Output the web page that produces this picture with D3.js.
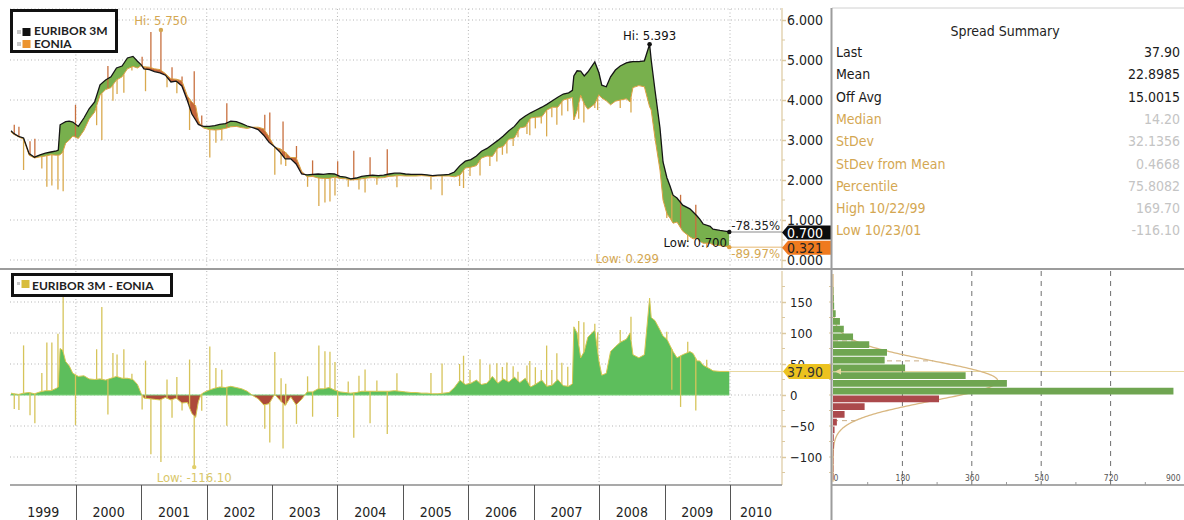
<!DOCTYPE html>
<html><head><meta charset="utf-8">
<script src="https://cdn.jsdelivr.net/npm/d3@7"></script>
<style>
body{margin:0;background:#fff;}
svg{display:block;}
text{font-family:"DejaVu Sans Condensed","DejaVu Sans",sans-serif;font-stretch:condensed;}
.lg{font-family:Lato,"Liberation Sans",sans-serif;font-weight:bold;font-stretch:normal;}
</style></head><body>
<svg id="c" width="1184" height="520"></svg>
<script>
// ---------------- DATA ----------------
const dates = [
"1999-01-04","1999-01-20","1999-02-15","1999-03-15","1999-04-15","1999-05-15","1999-06-15","1999-07-15","1999-08-15","1999-09-15","1999-09-25","1999-10-05","1999-10-20","1999-11-05","1999-11-25","1999-12-15",
"2000-01-15","2000-02-15","2000-03-15","2000-04-15","2000-05-15","2000-06-15","2000-07-15","2000-08-15","2000-09-15","2000-10-15","2000-11-15","2000-12-10","2000-12-31",
"2001-01-15","2001-02-15","2001-03-15","2001-04-15","2001-05-15","2001-06-15","2001-07-15","2001-08-15","2001-09-15","2001-10-10","2001-10-31","2001-11-15","2001-11-30","2001-12-15",
"2002-01-15","2002-02-15","2002-03-15","2002-04-15","2002-05-15","2002-06-15","2002-07-15","2002-08-15","2002-09-15","2002-10-15","2002-11-15","2002-12-15",
"2003-01-15","2003-02-15","2003-03-15","2003-04-15","2003-05-15","2003-06-15","2003-07-15","2003-08-15","2003-09-15","2003-10-15","2003-11-15","2003-12-15",
"2004-01-15","2004-02-15","2004-03-15","2004-04-15","2004-05-15","2004-06-15","2004-07-15","2004-08-15","2004-09-15","2004-10-15","2004-11-15","2004-12-15",
"2005-01-15","2005-02-15","2005-03-15","2005-04-15","2005-05-15","2005-06-15","2005-07-15","2005-08-15","2005-09-15","2005-10-15","2005-11-15","2005-12-15",
"2006-01-15","2006-02-15","2006-03-15","2006-04-15","2006-05-15","2006-06-15","2006-07-15","2006-08-15","2006-09-15","2006-10-15","2006-11-15","2006-12-15",
"2007-01-15","2007-02-15","2007-03-15","2007-04-15","2007-05-15","2007-06-15","2007-07-15","2007-08-05","2007-08-13","2007-08-31","2007-09-20","2007-10-10","2007-10-30","2007-12-08","2007-12-31",
"2008-01-16","2008-02-10","2008-03-05","2008-04-01","2008-04-28","2008-06-01","2008-06-22","2008-07-08","2008-08-10","2008-09-10","2008-10-09","2008-10-18","2008-11-08","2008-12-06","2008-12-23",
"2009-01-14","2009-01-31","2009-02-17","2009-03-11","2009-04-12","2009-05-22","2009-06-09","2009-07-01","2009-07-16","2009-08-04","2009-09-12","2009-09-28","2009-11-06","2009-12-21","2009-12-28"
];
const euribor = [
3.23,3.16,3.09,3.05,2.66,2.57,2.63,2.67,2.70,2.73,2.75,3.38,3.42,3.46,3.47,3.45,
3.34,3.55,3.78,3.95,4.38,4.50,4.58,4.80,4.85,5.05,5.09,4.97,4.88,
4.78,4.76,4.71,4.68,4.62,4.45,4.47,4.35,3.98,3.65,3.50,3.39,3.36,3.34,
3.34,3.36,3.39,3.41,3.47,3.46,3.41,3.35,3.31,3.26,3.12,2.94,
2.83,2.69,2.53,2.53,2.40,2.15,2.13,2.14,2.15,2.14,2.16,2.15,
2.09,2.07,2.03,2.05,2.09,2.11,2.12,2.11,2.12,2.15,2.17,2.17,
2.15,2.14,2.14,2.14,2.13,2.11,2.12,2.13,2.14,2.20,2.36,2.47,
2.51,2.60,2.72,2.79,2.89,2.99,3.10,3.23,3.34,3.50,3.60,3.68,
3.75,3.82,3.89,3.98,4.07,4.15,4.18,4.24,4.60,4.73,4.72,4.60,4.70,4.95,4.68,
4.37,4.33,4.58,4.75,4.85,4.93,4.95,4.96,4.96,4.98,5.393,5.00,4.25,3.30,2.45,
2.05,1.85,1.62,1.55,1.37,1.28,1.20,1.10,1.02,0.90,0.84,0.77,0.74,0.71,0.700
];
const eonia = [
3.20,3.14,3.08,3.02,2.62,2.55,2.58,2.60,2.63,2.62,2.62,2.63,2.70,2.92,3.00,3.10,
3.04,3.24,3.52,3.70,4.12,4.26,4.31,4.50,4.58,4.78,4.84,4.80,4.86,
4.83,4.82,4.78,4.76,4.66,4.53,4.52,4.48,4.10,3.95,3.86,3.50,3.35,3.30,
3.26,3.25,3.26,3.29,3.33,3.34,3.31,3.29,3.32,3.32,3.28,3.08,
2.82,2.78,2.70,2.56,2.56,2.22,2.08,2.09,2.05,2.04,2.04,2.07,
2.04,2.03,2.00,2.01,2.03,2.05,2.06,2.05,2.06,2.09,2.10,2.11,
2.10,2.10,2.10,2.11,2.10,2.09,2.10,2.10,2.10,2.08,2.12,2.30,
2.32,2.36,2.55,2.60,2.59,2.80,2.84,3.02,3.05,3.30,3.33,3.55,
3.57,3.58,3.75,3.82,3.82,4.00,4.04,4.06,3.50,3.73,4.12,3.90,3.77,3.90,4.13,
4.05,3.98,3.88,3.97,4.00,4.03,3.95,4.31,4.36,4.33,3.83,3.75,3.05,2.25,1.50,
1.15,1.05,0.92,0.95,0.72,0.58,0.53,0.55,0.47,0.42,0.42,0.38,0.36,0.33,0.321
];
// single-day EONIA prints (spikes)
const spikeDates = [
"1999-01-22","1999-02-17","1999-03-15","1999-04-20","1999-05-17","1999-06-25","1999-07-23","1999-08-20","1999-09-23","1999-10-22","1999-12-30",
"2000-04-26","2000-05-25","2000-06-28","2000-07-26","2000-08-18","2000-09-25","2000-11-09",
"2001-01-05","2001-01-24","2001-02-23","2001-04-20","2001-05-24","2001-06-21","2001-07-18","2001-08-16","2001-09-27","2001-10-23","2001-12-04",
"2002-01-18","2002-02-21","2002-03-26","2002-04-23","2002-11-21","2002-12-19",
"2003-01-16","2003-02-20","2003-03-03","2003-03-18","2003-05-17","2003-07-18","2003-08-15","2003-09-19","2003-10-23","2003-11-20","2003-12-18",
"2004-01-02","2004-03-01","2004-04-01","2004-04-30","2004-06-03","2004-07-01","2004-08-08","2004-10-05","2004-11-28",
"2005-06-06","2005-08-07","2005-11-13","2005-12-05",
"2006-01-10","2006-03-07","2006-05-01","2006-06-09","2006-07-10","2006-08-04","2006-09-08","2006-10-05","2006-11-24","2006-12-10",
"2007-01-10","2007-02-12","2007-03-14","2007-04-12","2007-05-10","2007-06-07","2007-07-10","2007-09-09","2007-10-08","2007-12-08","2007-12-24",
"2008-04-28","2008-06-27",
"2009-01-13","2009-02-10","2009-03-31","2009-05-10","2009-06-24","2009-08-24"
];
const spikeEonia = [
3.38,3.33,2.25,2.97,3.03,2.29,1.83,1.86,1.76,1.72,3.88,
3.37,3.00,4.85,3.98,4.15,4.18,4.74,
5.08,4.22,5.70,5.75,4.32,4.82,4.17,4.59,3.25,4.72,3.61,
2.56,2.93,2.99,3.92,3.63,3.69,
2.13,2.39,3.46,2.35,2.85,1.83,2.49,1.35,1.44,1.46,1.61,
2.47,1.83,2.73,1.76,1.69,2.57,1.88,2.77,1.82,
1.76,1.62,1.85,1.80,
2.10,2.11,2.35,2.46,2.63,2.66,2.85,3.07,3.15,3.12,
3.29,3.41,3.09,3.57,3.38,3.61,3.72,3.53,3.44,3.80,3.75,
3.80,3.69,
1.05,1.63,1.63,0.45,1.38,0.299
];
const yearLabels = ["1999","2000","2001","2002","2003","2004","2005","2006","2007","2008","2009","2010"];
const yearDividers = ["2000","2001","2002","2003","2004","2005","2006","2007","2008","2009","2010"];
const topTicks = [0,1,2,3,4,5,6];
const spreadTicks = [-100,-50,0,50,100,150];
const histBinLower = [-137.5,-125,-112.5,-100,-87.5,-75,-62.5,-50,-37.5,-25,-12.5,0,12.5,25,37.5,50,62.5,75,87.5,100,112.5,125,137.5,150,162.5];
const histCounts   = [1,1,1,1,2,2,4,10,30,82,275,883,451,344,187,134,140,94,52,28,18,7,3,2,1];
const histTicks = [0,180,360,540,720,900];
const summaryLabels = ["Last","Mean","Off Avg","Median","StDev","StDev from Mean","Percentile","High 10/22/99","Low 10/23/01"];
const summaryValues = ["37.90","22.8985","15.0015","14.20","32.1356","0.4668","75.8082","169.70","-116.10"];
const spreadMean = 22.8985, spreadSd = 32.1356, spreadLast = 37.90;

// ---------------- SETUP ----------------
const svg = d3.select("#c");
const parse = d3.timeParse("%Y-%m-%d");
const rows = dates.map((d,i)=>({date:parse(d), eur:euribor[i], eon:eonia[i], spr:(euribor[i]-eonia[i])*100}));
const spikes = spikeDates.map((d,i)=>({date:parse(d), eon:spikeEonia[i]}));
const bis = d3.bisector(d=>d.date).left;
function at(key, t){
  const i = bis(rows, t);
  if(i<=0) return rows[0][key];
  if(i>=rows.length) return rows[rows.length-1][key];
  const a=rows[i-1], b=rows[i];
  if(+b.date===+t) return b[key];
  const f=(t-a.date)/(b.date-a.date);
  return a[key]+(b[key]-a[key])*f;
}

const PL=10, PR=782, TT=9, TB=268, BT=271, BB=485;
const x = d3.scaleTime().domain([new Date(1999,0,1), new Date(2010,0,1)]).range([10.5,730]);
const yT = d3.scaleLinear().domain([0,6]).range([260,20]);
const yB = d3.scaleLinear().domain([-100,150]).range([457,302]);
const xH = d3.scaleLinear().domain([0,900]).range([833,1180]);

const C = {green:"#78b04d", red:"#c4653b", eon:"#dba040", eur:"#151515",
  sG:"#5dbe5c", sR:"#ad4a3a", sLine:"#d7c752", tan:"#d4a752", axis:"#dcc9a0",
  hG:"#6fa551", hR:"#ab494c", grid:"#b5b5b5"};

const defs = svg.append("defs");
defs.append("clipPath").attr("id","clipTop").append("rect").attr("x",PL).attr("y",TT).attr("width",PR-PL).attr("height",TB-TT);
defs.append("clipPath").attr("id","clipBot").append("rect").attr("x",PL).attr("y",BT).attr("width",PR-PL).attr("height",BB-BT);
defs.append("clipPath").attr("id","abvEon").append("path")
  .attr("d", d3.area().x(d=>x(d.date)).y0(0).y1(d=>yT(d.eon))(rows));
defs.append("clipPath").attr("id","blwEon").append("path")
  .attr("d", d3.area().x(d=>x(d.date)).y0(d=>yT(d.eon)).y1(TB)(rows));
defs.append("clipPath").attr("id","posS").append("rect").attr("x",0).attr("y",BT).attr("width",PR).attr("height",yB(0)-BT);
defs.append("clipPath").attr("id","negS").append("rect").attr("x",0).attr("y",yB(0)).attr("width",PR).attr("height",BB-yB(0));

// ---------------- FRAME / GRID ----------------
const gg = svg.append("g");
gg.selectAll(".hgT").data(topTicks).join("line")
  .attr("x1",PL).attr("x2",PR).attr("y1",d=>yT(d)).attr("y2",d=>yT(d))
  .attr("stroke",C.grid).attr("stroke-dasharray","1,2.5");
gg.append("line").attr("x1",PL).attr("x2",PR).attr("y1",TT).attr("y2",TT).attr("stroke",C.grid).attr("stroke-dasharray","1,2.5");
gg.append("g").selectAll("line").data(spreadTicks).join("line")
  .attr("x1",PL).attr("x2",PR).attr("y1",d=>yB(d)).attr("y2",d=>yB(d))
  .attr("stroke",C.grid).attr("stroke-dasharray","1,2.5");
const vYears = [2000,2002,2004,2006,2008,2010].map(y=>new Date(y,0,1));
gg.append("g").selectAll("line").data(vYears).join("line")
  .attr("x1",d=>x(d)).attr("x2",d=>x(d)).attr("y1",TT).attr("y2",TB)
  .attr("stroke",C.grid).attr("stroke-dasharray","1,2.5");
gg.append("g").selectAll("line").data(vYears).join("line")
  .attr("x1",d=>x(d)).attr("x2",d=>x(d)).attr("y1",BT).attr("y2",BB)
  .attr("stroke",C.grid).attr("stroke-dasharray","1,2.5");

// ---------------- TOP PANEL ----------------
const tg = svg.append("g").attr("clip-path","url(#clipTop)");
const between = d3.area().x(d=>x(d.date)).y0(d=>yT(d.eon)).y1(d=>yT(d.eur));
tg.append("g").attr("clip-path","url(#blwEon)").append("path").attr("d",between(rows)).attr("fill",C.red);
tg.append("g").attr("clip-path","url(#abvEon)").append("path").attr("d",between(rows)).attr("fill",C.green);
tg.append("g").selectAll("line").data(spikes).join("line")
  .attr("x1",d=>x(d.date)).attr("x2",d=>x(d.date))
  .attr("y1",d=>yT(at("eon",d.date))).attr("y2",d=>yT(d.eon))
  .attr("stroke",d=>d.eon>at("eur",d.date)?"#c8703f":"#d9a94e").attr("stroke-width",1.3);
tg.append("path").datum(rows).attr("d",d3.line().x(d=>x(d.date)).y(d=>yT(d.eon)))
  .attr("fill","none").attr("stroke",C.eon).attr("stroke-width",1);
tg.append("path").datum(rows).attr("d",d3.line().x(d=>x(d.date)).y(d=>yT(d.eur)))
  .attr("fill","none").attr("stroke",C.eur).attr("stroke-width",1.3);

// ---------------- BOTTOM PANEL ----------------
const bg = svg.append("g").attr("clip-path","url(#clipBot)");
const sArea = d3.area().x(d=>x(d.date)).y0(yB(0)).y1(d=>yB(d.spr));
bg.append("g").attr("clip-path","url(#posS)").append("path").attr("d",sArea(rows)).attr("fill",C.sG);
bg.append("g").attr("clip-path","url(#negS)").append("path").attr("d",sArea(rows)).attr("fill",C.sR);
bg.append("line").attr("x1",x(rows[0].date)).attr("x2",x(rows[rows.length-1].date))
  .attr("y1",yB(0)).attr("y2",yB(0)).attr("stroke","#7fd27c").attr("stroke-width",1.2);
bg.append("g").selectAll("line").data(spikes).join("line")
  .attr("x1",d=>x(d.date)).attr("x2",d=>x(d.date))
  .attr("y1",d=>yB(at("spr",d.date))).attr("y2",d=>yB((at("eur",d.date)-d.eon)*100))
  .attr("stroke","#d6c45a").attr("stroke-width",1.3);
bg.append("path").datum(rows).attr("d",d3.line().x(d=>x(d.date)).y(d=>yB(d.spr)))
  .attr("fill","none").attr("stroke",C.sLine).attr("stroke-width",1);

// ---------------- AXES ----------------
svg.append("line").attr("x1",PR).attr("x2",PR).attr("y1",8).attr("y2",TB).attr("stroke",C.axis).attr("stroke-width",1.2);
svg.append("line").attr("x1",PR).attr("x2",PR).attr("y1",BT).attr("y2",BB).attr("stroke",C.axis).attr("stroke-width",1.2);
svg.append("g").selectAll("line").data(d3.range(0.5,6,1)).join("line")
  .attr("x1",PR).attr("x2",PR+3).attr("y1",d=>yT(d)).attr("y2",d=>yT(d)).attr("stroke",C.axis);
svg.append("g").selectAll("line").data(d3.range(-125,200,50)).join("line")
  .attr("x1",PR).attr("x2",PR+3).attr("y1",d=>yB(d)).attr("y2",d=>yB(d)).attr("stroke",C.axis);

const axT = svg.append("g").attr("transform",`translate(${PR},0)`)
  .call(d3.axisRight(yT).tickValues(topTicks).tickFormat(d3.format(".3f")).tickSize(4).tickPadding(1));
axT.select(".domain").remove();
axT.selectAll("line").attr("stroke",C.axis).attr("stroke-width",1.5);
axT.selectAll("text").attr("font-size",14).attr("fill","#222").attr("font-family",null);

const axB = svg.append("g").attr("transform",`translate(${PR},0)`)
  .call(d3.axisRight(yB).tickValues(spreadTicks).tickSize(4).tickPadding(4));
axB.select(".domain").remove();
axB.selectAll("line").attr("stroke",C.axis).attr("stroke-width",1.5);
axB.selectAll("text").attr("font-size",13).attr("fill","#222").attr("font-family",null);

svg.append("line").attr("x1",PL).attr("x2",PR).attr("y1",BB).attr("y2",BB).attr("stroke","#8c8c8c").attr("stroke-width",1.5);
svg.append("g").selectAll("line").data(yearDividers).join("line")
  .attr("x1",d=>Math.round(x(new Date(+d,0,1)))+0.5).attr("x2",d=>Math.round(x(new Date(+d,0,1)))+0.5)
  .attr("y1",BB).attr("y2",520).attr("stroke","#555");
svg.append("g").selectAll("text").data(yearLabels).join("text")
  .attr("x",d=>{const a=Math.max(0,x(new Date(+d,0,1))), b=Math.min(PR,x(new Date(+d+1,0,1))); return (a+b)/2;})
  .attr("y",517).attr("text-anchor","middle").attr("font-size",14).attr("fill","#222").text(d=>d);

// ---------------- TOP ANNOTATIONS ----------------
const last = rows[rows.length-1];
const peak = rows.reduce((a,b)=>b.eur>a.eur?b:a);
const hiSpk = spikes.reduce((a,b)=>b.eon>a.eon?b:a);
const loSpk = spikes.reduce((a,b)=>((at("eur",b.date)-b.eon)<(at("eur",a.date)-a.eon))?b:a);
svg.append("text").attr("x",x(hiSpk.date)).attr("y",25).attr("text-anchor","middle").attr("font-size",13).attr("fill",C.tan).text("Hi: 5.750");
svg.append("circle").attr("cx",x(hiSpk.date)).attr("cy",yT(hiSpk.eon)).attr("r",2.2).attr("fill",C.tan);
svg.append("text").attr("x",x(peak.date)).attr("y",40).attr("text-anchor","middle").attr("font-size",13).attr("fill","#111").text("Hi: 5.393");
svg.append("circle").attr("cx",x(peak.date)).attr("cy",yT(peak.eur)).attr("r",2.3).attr("fill","#111");
svg.append("line").attr("x1",x(last.date)).attr("x2",PR).attr("y1",yT(last.eur)).attr("y2",yT(last.eur)).attr("stroke","#8a8a8a");
svg.append("line").attr("x1",x(last.date)).attr("x2",PR).attr("y1",yT(last.eon)).attr("y2",yT(last.eon)).attr("stroke","#e6b873");
svg.append("circle").attr("cx",x(last.date)).attr("cy",yT(last.eur)).attr("r",2.2).attr("fill","#111");
svg.append("circle").attr("cx",x(last.date)).attr("cy",yT(last.eon)).attr("r",2.2).attr("fill","#e0a040");
svg.append("text").attr("x",780).attr("y",230).attr("text-anchor","end").attr("font-size",13).attr("fill","#222").text("-78.35%");
svg.append("text").attr("x",780).attr("y",258).attr("text-anchor","end").attr("font-size",13).attr("fill",C.tan).text("-89.97%");
svg.append("text").attr("x",727).attr("y",247).attr("text-anchor","end").attr("font-size",13).attr("fill","#111").text("Low: 0.700");
svg.append("text").attr("x",659).attr("y",263).attr("text-anchor","end").attr("font-size",13).attr("fill",C.tan).text("Low: 0.299");

function badge(yc, fill, tc, label, x0, x1){
  const h=14;
  svg.append("path").attr("d",`M${x0},${yc} L${x0+6},${yc-h/2} L${x1},${yc-h/2} L${x1},${yc+h/2} L${x0+6},${yc+h/2} Z`).attr("fill",fill);
  svg.append("text").attr("x",x0+5).attr("y",yc+5).attr("font-size",14).attr("fill",tc).text(label);
}
badge(yT(last.eon)+0.5, "#ef7a1e", "#222", d3.format(".3f")(last.eon), 782, 831);
badge(yT(last.eur)+0.5, "#0c0c0c", "#fff", d3.format(".3f")(last.eur), 782, 831);

// ---------------- BOTTOM ANNOTATIONS ----------------
const loS = (at("eur",loSpk.date)-loSpk.eon)*100;
svg.append("circle").attr("cx",x(loSpk.date)).attr("cy",yB(loS)).attr("r",2.2).attr("fill","#e2cf6a");
svg.append("text").attr("x",x(loSpk.date)).attr("y",482).attr("text-anchor","middle").attr("font-size",13).attr("fill","#d9c76a").text("Low: -116.10");
svg.append("line").attr("x1",x(last.date)).attr("x2",1184).attr("y1",yB(spreadLast)).attr("y2",yB(spreadLast)).attr("stroke","#e8d8a0").attr("stroke-width",1.2);
{
  const yc=yB(spreadLast), x0=783, x1=831, h=15;
  svg.append("path").attr("d",`M${x0},${yc} L${x0+6},${yc-h/2} L${x1},${yc-h/2} L${x1},${yc+h/2} L${x0+6},${yc+h/2} Z`).attr("fill","#ecc21f");
  svg.append("text").attr("x",x0+4).attr("y",yc+5).attr("font-size",14).attr("fill","#333").text(d3.format(".2f")(spreadLast));
}

// ---------------- HISTOGRAM ----------------
const hg = svg.append("g");
hg.append("g").selectAll("line").data(histTicks.slice(1,5)).join("line")
  .attr("x1",d=>xH(d)).attr("x2",d=>xH(d)).attr("y1",BT).attr("y2",BB)
  .attr("stroke","#6f6f6f").attr("stroke-dasharray","5,5");
const N = d3.sum(histCounts), bw = 12.5;
const amp = N*bw/(spreadSd*Math.sqrt(2*Math.PI));
const nc = v => amp*Math.exp(-0.5*((v-spreadMean)/spreadSd)**2);
hg.append("path").datum(d3.range(-140,196,1))
  .attr("d",d3.line().x(v=>xH(nc(v))).y(v=>yB(v)))
  .attr("fill","none").attr("stroke","#d9b882").attr("stroke-width",1.3);
[1,-1,2,-2].forEach(k=>{
  const v=spreadMean+k*spreadSd;
  hg.append("line").attr("x1",xH(0)).attr("x2",xH(nc(v))).attr("y1",yB(v)).attr("y2",yB(v))
    .attr("stroke","#c9ad86").attr("stroke-dasharray","5,4");
});
hg.append("g").selectAll("rect").data(histBinLower.map((l,i)=>({l,c:histCounts[i]}))).join("rect")
  .attr("x",xH(0)).attr("y",d=>yB(d.l+bw)+0.5).attr("width",d=>xH(d.c)-xH(0))
  .attr("height",d=>yB(d.l)-yB(d.l+bw)-1)
  .attr("fill",d=>d.l>=0?C.hG:C.hR);
hg.append("g").selectAll("line").data(d3.range(-125,200,25)).join("line")
  .attr("x1",829).attr("x2",833).attr("y1",d=>yB(d)).attr("y2",d=>yB(d)).attr("stroke",C.axis);
hg.append("path").attr("d",`M${xH(0)+2},${yB(spreadLast)} l6,-3 l0,6 Z`).attr("fill","#e8d8a0");
hg.append("line").attr("x1",832).attr("x2",1184).attr("y1",BB).attr("y2",BB).attr("stroke","#8c8c8c").attr("stroke-width",1.5);
hg.append("g").selectAll("line").data(d3.range(90,900,180)).join("line")
  .attr("x1",d=>xH(d)).attr("x2",d=>xH(d)).attr("y1",BB).attr("y2",BB-3).attr("stroke","#999");
const axH = hg.append("g").attr("transform",`translate(0,${BB})`)
  .call(d3.axisTop(xH).tickValues(histTicks).tickSize(0).tickPadding(4));
axH.select(".domain").remove();
axH.selectAll("text").attr("font-size",8.5).attr("fill","#555").attr("font-family",null)
  .attr("text-anchor",d=>d===0?"start":(d===900?"end":"middle"));

// ---------------- SUMMARY ----------------
svg.append("line").attr("x1",832).attr("x2",1184).attr("y1",8).attr("y2",8).attr("stroke","#d0d0d0");
svg.append("text").attr("x",1005).attr("y",36).attr("text-anchor","middle").attr("font-size",14).attr("fill","#222").text("Spread Summary");
svg.append("g").selectAll("text").data(summaryLabels).join("text")
  .attr("x",836).attr("y",(d,i)=>57+i*22.3).attr("font-size",14)
  .attr("fill",(d,i)=>i<3?"#1a1a1a":C.tan).text(d=>d);
svg.append("g").selectAll("text").data(summaryValues).join("text")
  .attr("x",1180).attr("y",(d,i)=>57+i*22.3).attr("font-size",14).attr("text-anchor","end")
  .attr("fill",(d,i)=>i<3?"#1a1a1a":"#c4c4c4").text(d=>d);

// ---------------- PANEL DIVIDERS ----------------
svg.append("line").attr("x1",0).attr("x2",1184).attr("y1",269).attr("y2",269).attr("stroke","#9c9c9c").attr("stroke-width",2);
svg.append("line").attr("x1",831.5).attr("x2",831.5).attr("y1",8).attr("y2",520).attr("stroke","#9c9c9c").attr("stroke-width",2);

// ---------------- LEGENDS ----------------
svg.append("rect").attr("x",11.5).attr("y",10.5).attr("width",105).attr("height",41).attr("fill","#fff").attr("stroke","#111").attr("stroke-width",3);
svg.append("rect").attr("x",17).attr("y",30).attr("width",4).attr("height",4).attr("fill","#c8c8c8");
svg.append("rect").attr("x",22.5).attr("y",28).attr("width",8).attr("height",8).attr("fill","#111");
svg.append("text").attr("class","lg").attr("x",34).attr("y",35).attr("font-size",12).attr("fill","#222").text("EURIBOR 3M");
svg.append("rect").attr("x",17).attr("y",42).attr("width",4).attr("height",4).attr("fill","#c8c8c8");
svg.append("rect").attr("x",22.5).attr("y",40).attr("width",8).attr("height",8).attr("fill","#ec9430");
svg.append("text").attr("class","lg").attr("x",34).attr("y",48).attr("font-size",12).attr("fill","#222").text("EONIA");

svg.append("rect").attr("x",12.5).attr("y",274.5).attr("width",159).attr("height",21).attr("fill","#fff").attr("stroke","#111").attr("stroke-width",3);
svg.append("rect").attr("x",17).attr("y",282).attr("width",3).attr("height",3).attr("fill","#c8c8c8");
svg.append("rect").attr("x",21.5).attr("y",280).attr("width",8).attr("height",8).attr("fill","#d8bd3c");
svg.append("text").attr("class","lg").attr("x",32).attr("y",289.5).attr("font-size",12).attr("fill","#222").text("EURIBOR 3M - EONIA");
</script>
</body></html>
